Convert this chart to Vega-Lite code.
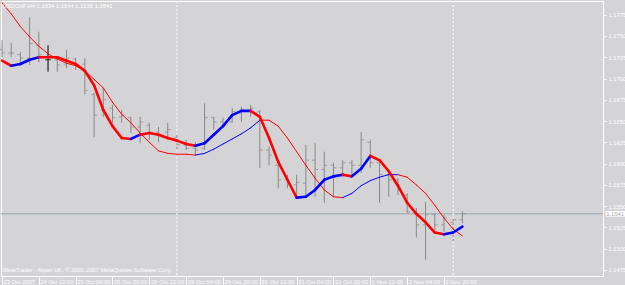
{
  "$schema": "https://vega.github.io/schema/vega-lite/v6.json",
  "width": 602,
  "height": 275,
  "autosize": "none",
  "padding": {"left": 1, "top": 1, "right": 22, "bottom": 9},
  "background": "#d4d4d6",
  "config": {
    "view": {"stroke": "#ffffff", "strokeWidth": 1, "fill": "#d4d4d6"},
    "font": "Liberation Sans",
    "axis": {"grid": false, "labelFontSize": 5.8, "labelColor": "#ffffff", "tickColor": "#ffffff", "domainColor": "#ffffff", "labelFlush": false, "title": null},
    "axisX": {"labelAlign": "left", "labelBaseline": "middle", "labelOffset": 1, "labelPadding": -3, "tickSize": 8},
    "axisY": {"labelPadding": 2, "labelBaseline": "middle", "labelAlign": "left", "tickSize": 3}
  },
  "datasets": {
    "bars": [
      {"i":0,"o":1.1734,"h":1.1745,"l":1.1725,"c":1.1730,"ma":1.1721,"ms":1.1789,"tc":"down","sc":"down"},
      {"i":1,"o":1.1730,"h":1.1742,"l":1.1725,"c":1.1730,"ma":1.1715,"ms":1.1776,"tc":"up","sc":"down"},
      {"i":2,"o":1.1728,"h":1.1731,"l":1.1718,"c":1.1724,"ma":1.1717,"ms":1.1761,"tc":"up","sc":"down"},
      {"i":3,"o":1.1724,"h":1.1772,"l":1.1716,"c":1.1741,"ma":1.1722,"ms":1.1749,"tc":"up","sc":"down"},
      {"i":4,"o":1.1739,"h":1.1755,"l":1.1719,"c":1.1728,"ma":1.1725,"ms":1.1738,"tc":"down","sc":"down"},
      {"i":5,"o":1.1722,"h":1.1739,"l":1.1708,"c":1.1722,"ma":1.1725,"ms":1.1729,"tc":"down","sc":"down"},
      {"i":6,"o":1.1722,"h":1.1725,"l":1.1708,"c":1.1716,"ma":1.1725,"ms":1.1723,"tc":"down","sc":"down"},
      {"i":7,"o":1.1717,"h":1.1734,"l":1.1712,"c":1.1724,"ma":1.1721,"ms":1.1718,"tc":"down","sc":"down"},
      {"i":8,"o":1.1723,"h":1.1724,"l":1.1710,"c":1.1716,"ma":1.1717,"ms":1.1715,"tc":"down","sc":"down"},
      {"i":9,"o":1.1717,"h":1.1724,"l":1.1681,"c":1.1686,"ma":1.1709,"ms":1.1709,"tc":"down","sc":"down"},
      {"i":10,"o":1.1681,"h":1.1683,"l":1.1631,"c":1.1657,"ma":1.1692,"ms":1.1699,"tc":"down","sc":"down"},
      {"i":11,"o":1.1663,"h":1.1689,"l":1.1655,"c":1.1675,"ma":1.1663,"ms":1.1689,"tc":"down","sc":"down"},
      {"i":12,"o":1.1665,"h":1.1669,"l":1.1648,"c":1.1654,"ma":1.1644,"ms":1.1672,"tc":"down","sc":"down"},
      {"i":13,"o":1.1655,"h":1.1663,"l":1.1648,"c":1.1657,"ma":1.1630,"ms":1.1658,"tc":"down","sc":"down"},
      {"i":14,"o":1.1654,"h":1.1655,"l":1.1636,"c":1.1643,"ma":1.1629,"ms":1.1648,"tc":"up","sc":"down"},
      {"i":15,"o":1.1643,"h":1.1655,"l":1.1624,"c":1.1649,"ma":1.1634,"ms":1.1636,"tc":"down","sc":"down"},
      {"i":16,"o":1.1645,"h":1.1648,"l":1.1628,"c":1.1637,"ma":1.1636,"ms":1.1625,"tc":"down","sc":"down"},
      {"i":17,"o":1.1637,"h":1.1643,"l":1.1625,"c":1.1634,"ma":1.1634,"ms":1.1615,"tc":"down","sc":"down"},
      {"i":18,"o":1.1637,"h":1.1648,"l":1.1630,"c":1.1640,"ma":1.1630,"ms":1.1612,"tc":"down","sc":"down"},
      {"i":19,"o":1.1631,"h":1.1634,"l":1.1616,"c":1.1622,"ma":1.1627,"ms":1.1611,"tc":"down","sc":"down"},
      {"i":20,"o":1.1622,"h":1.1628,"l":1.1616,"c":1.1618,"ma":1.1623,"ms":1.1611,"tc":"down","sc":"down"},
      {"i":21,"o":1.1618,"h":1.1625,"l":1.1610,"c":1.1616,"ma":1.1621,"ms":1.1610,"tc":"up","sc":"up"},
      {"i":22,"o":1.1618,"h":1.1671,"l":1.1616,"c":1.1654,"ma":1.1624,"ms":1.1612,"tc":"up","sc":"up"},
      {"i":23,"o":1.1654,"h":1.1655,"l":1.1640,"c":1.1649,"ma":1.1634,"ms":1.1617,"tc":"up","sc":"up"},
      {"i":24,"o":1.1649,"h":1.1654,"l":1.1642,"c":1.1645,"ma":1.1644,"ms":1.1623,"tc":"up","sc":"up"},
      {"i":25,"o":1.1649,"h":1.1665,"l":1.1648,"c":1.1661,"ma":1.1657,"ms":1.1629,"tc":"up","sc":"up"},
      {"i":26,"o":1.1659,"h":1.1667,"l":1.1649,"c":1.1663,"ma":1.1662,"ms":1.1635,"tc":"up","sc":"up"},
      {"i":27,"o":1.1663,"h":1.1669,"l":1.1655,"c":1.1665,"ma":1.1662,"ms":1.1642,"tc":"down","sc":"up"},
      {"i":28,"o":1.1661,"h":1.1663,"l":1.1595,"c":1.1616,"ma":1.1655,"ms":1.1651,"tc":"down","sc":"down"},
      {"i":29,"o":1.1616,"h":1.1620,"l":1.1598,"c":1.1610,"ma":1.1630,"ms":1.1651,"tc":"down","sc":"down"},
      {"i":30,"o":1.1598,"h":1.1601,"l":1.1571,"c":1.1581,"ma":1.1602,"ms":1.1644,"tc":"down","sc":"down"},
      {"i":31,"o":1.1581,"h":1.1587,"l":1.1571,"c":1.1575,"ma":1.1581,"ms":1.1630,"tc":"down","sc":"down"},
      {"i":32,"o":1.1575,"h":1.1587,"l":1.1561,"c":1.1578,"ma":1.1560,"ms":1.1614,"tc":"up","sc":"down"},
      {"i":33,"o":1.1577,"h":1.1622,"l":1.1563,"c":1.1604,"ma":1.1561,"ms":1.1598,"tc":"up","sc":"down"},
      {"i":34,"o":1.1604,"h":1.1624,"l":1.1561,"c":1.1593,"ma":1.1569,"ms":1.1583,"tc":"up","sc":"down"},
      {"i":35,"o":1.1593,"h":1.1614,"l":1.1554,"c":1.1598,"ma":1.1581,"ms":1.1569,"tc":"up","sc":"down"},
      {"i":36,"o":1.1598,"h":1.1601,"l":1.1561,"c":1.1595,"ma":1.1585,"ms":1.1561,"tc":"up","sc":"down"},
      {"i":37,"o":1.1595,"h":1.1604,"l":1.1584,"c":1.1601,"ma":1.1587,"ms":1.1560,"tc":"down","sc":"up"},
      {"i":38,"o":1.1601,"h":1.1604,"l":1.1587,"c":1.1598,"ma":1.1585,"ms":1.1565,"tc":"up","sc":"up"},
      {"i":39,"o":1.1598,"h":1.1637,"l":1.1589,"c":1.1628,"ma":1.1594,"ms":1.1574,"tc":"up","sc":"up"},
      {"i":40,"o":1.1625,"h":1.1628,"l":1.1595,"c":1.1601,"ma":1.1609,"ms":1.1580,"tc":"down","sc":"up"},
      {"i":41,"o":1.1601,"h":1.1601,"l":1.1554,"c":1.1587,"ma":1.1604,"ms":1.1584,"tc":"down","sc":"up"},
      {"i":42,"o":1.1587,"h":1.1593,"l":1.1561,"c":1.1581,"ma":1.1591,"ms":1.1587,"tc":"down","sc":"up"},
      {"i":43,"o":1.1581,"h":1.1583,"l":1.1563,"c":1.1569,"ma":1.1574,"ms":1.1587,"tc":"down","sc":"down"},
      {"i":44,"o":1.1563,"h":1.1565,"l":1.1542,"c":1.1543,"ma":1.1554,"ms":1.1584,"tc":"down","sc":"down"},
      {"i":45,"o":1.1543,"h":1.1548,"l":1.1513,"c":1.1528,"ma":1.1541,"ms":1.1575,"tc":"down","sc":"down"},
      {"i":46,"o":1.1528,"h":1.1555,"l":1.1487,"c":1.1540,"ma":1.1531,"ms":1.1565,"tc":"down","sc":"down"},
      {"i":47,"o":1.1540,"h":1.1542,"l":1.1522,"c":1.1528,"ma":1.1519,"ms":1.1551,"tc":"down","sc":"down"},
      {"i":48,"o":1.1528,"h":1.1540,"l":1.1520,"c":1.1536,"ma":1.1517,"ms":1.1536,"tc":"up","sc":"down"},
      {"i":49,"o":1.1531,"h":1.1536,"l":1.1508,"c":1.1534,"ma":1.1519,"ms":1.1523,"tc":"up","sc":"down"},
      {"i":50,"o":1.1534,"h":1.1544,"l":1.1530,"c":1.1541,"ma":1.1526,"ms":1.1515,"tc":"up","sc":"down"}
    ],
    "seps": [{"i": 19}, {"i": 49}],
    "price": [{"p": 1.1541, "lab": "1.1541"}]
  },
  "layer": [
    {
      "data": {"name": "bars"},
      "mark": {"type": "rule", "strokeWidth": 1},
      "encoding": {
        "x": {
          "field": "i", "type": "quantitative", "title": null,
          "scale": {"domain": [-0.109, 65.27], "nice": false, "zero": false},
          "axis": {
            "values": [0, 4, 8, 12, 16, 20, 24, 28, 32, 36, 40, 44, 48],
            "tickCount": 40,
            "labelOverlap": false,
            "labelExpr": "['23 Oct 2007','24 Oct 12:00','25 Oct 04:00','25 Oct 20:00','26 Oct 12:00','29 Oct 04:00','29 Oct 20:00','30 Oct 12:00','31 Oct 04:00','31 Oct 20:00','1 Nov 12:00','2 Nov 04:00','2 Nov 20:00'][datum.value/4]"
          }
        },
        "y": {
          "field": "l", "type": "quantitative", "title": null,
          "scale": {"domain": [1.14679, 1.17911], "nice": false, "zero": false},
          "axis": {
            "orient": "right",
            "tickCount": 40,
            "labelOverlap": false,
            "values": [1.1475, 1.15, 1.1525, 1.155, 1.1575, 1.16, 1.1625, 1.165, 1.1675, 1.17, 1.1725, 1.175, 1.1775],
            "format": ".4f"
          }
        },
        "y2": {"field": "h"},
        "color": {"condition": {"test": "datum.i == 5", "value": "#000000"}, "value": "#888888"}
      }
    },
    {
      "data": {"name": "price"},
      "mark": {"type": "rule", "color": "#98a4aa", "strokeWidth": 1},
      "encoding": {
        "y": {"field": "p", "type": "quantitative", "title": null}
      }
    },
    {
      "data": {"name": "seps"},
      "mark": {"type": "rule", "color": "#ffffff", "strokeWidth": 1, "strokeDash": [2, 2]},
      "encoding": {
        "x": {"field": "i", "type": "quantitative", "title": null}
      }
    },
    {
      "data": {"name": "bars"},
      "mark": {"type": "tick", "orient": "horizontal", "size": 3, "thickness": 1, "xOffset": -1.5},
      "encoding": {
        "x": {"field": "i", "type": "quantitative", "title": null},
        "y": {"field": "o", "type": "quantitative", "title": null},
        "color": {"condition": {"test": "datum.i == 5", "value": "#000000"}, "value": "#888888"}
      }
    },
    {
      "data": {"name": "bars"},
      "mark": {"type": "tick", "orient": "horizontal", "size": 3, "thickness": 1, "xOffset": 1.5},
      "encoding": {
        "x": {"field": "i", "type": "quantitative", "title": null},
        "y": {"field": "c", "type": "quantitative", "title": null},
        "color": {"condition": {"test": "datum.i == 5", "value": "#000000"}, "value": "#888888"}
      }
    },
    {
      "data": {"name": "bars"},
      "transform": [
        {"window": [{"op": "lead", "field": "i", "as": "i2"}, {"op": "lead", "field": "ms", "as": "ms2"}], "sort": [{"field": "i"}]},
        {"filter": "datum.i2 != null"}
      ],
      "mark": {"type": "rule", "strokeWidth": 1, "strokeCap": "round", "clip": true},
      "encoding": {
        "x": {"field": "i", "type": "quantitative", "title": null},
        "x2": {"field": "i2"},
        "y": {"field": "ms", "type": "quantitative", "title": null},
        "y2": {"field": "ms2"},
        "color": {"field": "sc", "type": "nominal", "scale": {"domain": ["up", "down"], "range": ["#0000ff", "#ff0000"]}, "legend": null}
      }
    },
    {
      "data": {"name": "bars"},
      "transform": [
        {"window": [{"op": "lead", "field": "i", "as": "i2"}, {"op": "lead", "field": "ma", "as": "ma2"}], "sort": [{"field": "i"}]},
        {"filter": "datum.i2 != null"}
      ],
      "mark": {"type": "rule", "strokeWidth": 2.6, "strokeCap": "round", "clip": true},
      "encoding": {
        "x": {"field": "i", "type": "quantitative", "title": null},
        "x2": {"field": "i2"},
        "y": {"field": "ma", "type": "quantitative", "title": null},
        "y2": {"field": "ma2"},
        "color": {"field": "tc", "type": "nominal", "scale": {"domain": ["up", "down"], "range": ["#0000ff", "#ff0000"]}, "legend": null}
      }
    },
    {
      "data": {"values": [{"t": "USDCHF,H4  1.1534 1.1544 1.1530 1.1541"}]},
      "mark": {"type": "text", "align": "left", "baseline": "middle", "fontSize": 5.8, "color": "#ffffff"},
      "encoding": {
        "x": {"datum": 0.05, "type": "quantitative"},
        "y": {"datum": 1.17852, "type": "quantitative"},
        "text": {"field": "t"}
      }
    },
    {
      "data": {"values": [{"t": "MetaTrader - Alpari UK, © 2001-2007 MetaQuotes Software Corp."}]},
      "mark": {"type": "text", "align": "left", "baseline": "middle", "fontSize": 5.8, "color": "#ffffff"},
      "encoding": {
        "x": {"datum": 0.1, "type": "quantitative"},
        "y": {"datum": 1.1475, "type": "quantitative"},
        "text": {"field": "t"}
      }
    },
    {
      "data": {"name": "price"},
      "mark": {"type": "rect", "color": "#ffffff", "clip": false},
      "encoding": {
        "x": {"datum": 65.55, "type": "quantitative"},
        "x2": {"datum": 68.5},
        "y": {"datum": 1.15377, "type": "quantitative"},
        "y2": {"datum": 1.15443}
      }
    },
    {
      "data": {"name": "price"},
      "mark": {"type": "text", "align": "left", "baseline": "middle", "fontSize": 5.8, "color": "#a8a8a8", "clip": false},
      "encoding": {
        "x": {"datum": 65.62, "type": "quantitative"},
        "y": {"field": "p", "type": "quantitative"},
        "text": {"field": "lab"}
      }
    }
  ]
}
